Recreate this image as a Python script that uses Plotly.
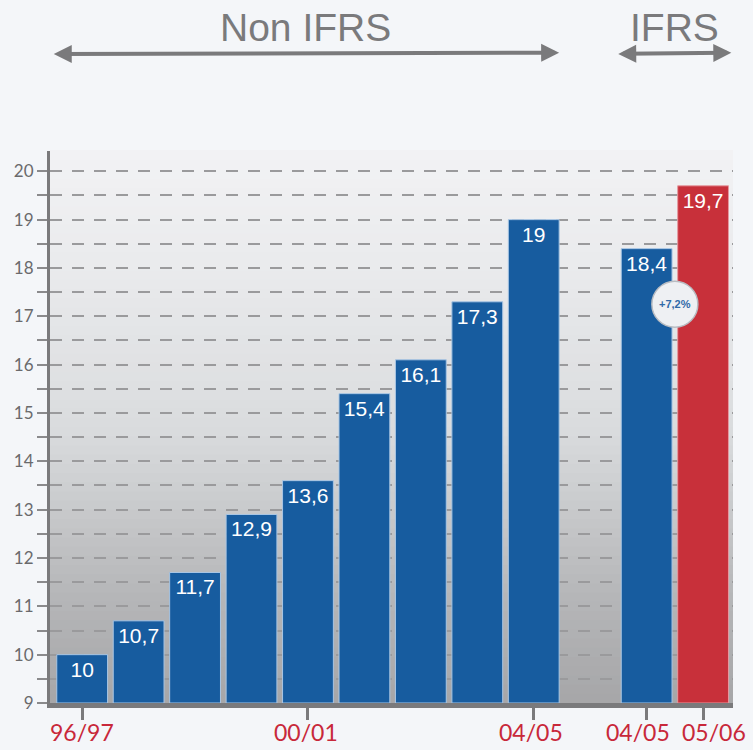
import plotly.graph_objects as go

# data
seasons_non_ifrs = ["96/97", "97/98", "98/99", "99/00", "00/01", "01/02", "02/03", "03/04", "04/05"]
values_non_ifrs = [10, 10.7, 11.7, 12.9, 13.6, 15.4, 16.1, 17.3, 19]
seasons_ifrs = ["04/05", "05/06"]
values_ifrs = [18.4, 19.7]
labeled_seasons = ["96/97", "00/01", "04/05"]
growth_label = "+7,2%"
y_ticks = list(range(9, 21))

BLUE = "#175c9f"
RED = "#c8303a"
GREY = "#7a7a7c"
TICK_RED = "#c8283a"

# x positions: non-IFRS bars, one empty slot, then IFRS bars
x_non = list(range(len(seasons_non_ifrs)))
x_ifrs = [len(seasons_non_ifrs) + 1 + i for i in range(len(seasons_ifrs))]

tickvals = [x_non[seasons_non_ifrs.index(s)] for s in labeled_seasons] + x_ifrs
ticktext = labeled_seasons + seasons_ifrs
# the two IFRS labels sit slightly apart from their ticks
label_shift = [0, -2, -3, -9, 11]


def fmt(v):
    return f"{v:g}".replace(".", ",")


fig = go.Figure()

bar_font = dict(color="white", size=21, family="Liberation Sans, Arial")
fig.add_trace(
    go.Bar(
        x=x_non,
        y=[v - 9 for v in values_non_ifrs],
        base=9,
        marker=dict(color=BLUE, line=dict(color="#a9c6e4", width=1)),
        text=[fmt(v) for v in values_non_ifrs],
        textposition="inside",
        insidetextanchor="end",
        textfont=bar_font,
        width=0.9,
        hoverinfo="skip",
    )
)
fig.add_trace(
    go.Bar(
        x=x_ifrs,
        y=[v - 9 for v in values_ifrs],
        base=9,
        marker=dict(color=[BLUE, RED], line=dict(color=["#a9c6e4", "#e59aa0"], width=1)),
        text=[fmt(v) for v in values_ifrs],
        textposition="inside",
        insidetextanchor="end",
        textfont=bar_font,
        width=0.9,
        hoverinfo="skip",
    )
)

# vertical gradient behind the bars
stops = [(0.0, (166, 166, 168)), (0.2, (182, 183, 185)), (0.5, (218, 220, 222)),
         (0.8, (234, 235, 237)), (1.0, (242, 242, 244))]
n = 60
shapes = []
for i in range(n):
    t = (i + 0.5) / n
    for (p0, c0), (p1, c1) in zip(stops[:-1], stops[1:]):
        if p0 <= t <= p1:
            f = (t - p0) / (p1 - p0)
            c = tuple(int(round(a + (b - a) * f)) for a, b in zip(c0, c1))
            break
    shapes.append(
        dict(
            type="rect", xref="x domain", yref="y domain",
            x0=0, x1=1, y0=i / n, y1=(i + 1) / n + 0.002,
            fillcolor=f"rgb{c}", line=dict(width=0), layer="below",
        )
    )

# growth bubble between the two IFRS bars
bx = (x_ifrs[0] + x_ifrs[1]) / 2
by = 17.25
shapes.append(
    dict(
        type="circle", xref="x", yref="y", xsizemode="pixel", ysizemode="pixel",
        xanchor=bx, yanchor=by, x0=-23, x1=23, y0=-23, y1=23,
        fillcolor="#eef0f3", line=dict(color="#b8bcc2", width=1.5),
    )
)

annotations = [
    dict(x=bx, y=by, xref="x", yref="y", text=f"<b>{growth_label}</b>", showarrow=False,
         font=dict(size=11, color="#2f6aa8", family="Liberation Sans, Arial")),
]

# x labels as annotations so the IFRS pair can be nudged apart
for xv, txt, dx in zip(tickvals, ticktext, label_shift):
    annotations.append(
        dict(x=xv, y=-0.024, xref="x", yref="paper", text=txt, showarrow=False,
             yanchor="top", xshift=dx,
             font=dict(size=23, color=TICK_RED, family="Lato, Noto Sans"))
    )

# top range arrows and labels
for label, x0, x1 in [("Non IFRS", x_non[0] - 0.53, x_non[-1] + 0.45),
                      ("IFRS", x_ifrs[0] - 0.53, x_ifrs[-1] + 0.5)]:
    annotations.append(
        dict(x=x1, y=1.178, xref="x", yref="paper", ax=x0, ay=1.178, axref="x", ayref="y domain",
             showarrow=True, arrowside="end+start", arrowhead=2, arrowsize=0.9,
             arrowwidth=4, arrowcolor=GREY, text="")
    )
    annotations.append(
        dict(x=(x0 + x1) / 2, y=1.181, xref="x", yref="paper", text=label, showarrow=False,
             yanchor="bottom",
             font=dict(size=39, color=GREY, family="Liberation Sans, Arial"))
    )

fig.update_layout(
    width=753,
    height=750,
    margin=dict(l=50, r=20, t=151, b=47),
    paper_bgcolor="#f4f6f9",
    plot_bgcolor="rgba(0,0,0,0)",
    showlegend=False,
    bargap=0.1,
    shapes=shapes,
    annotations=annotations,
    xaxis=dict(
        range=[-0.57, x_ifrs[-1] + 0.53],
        tickvals=tickvals,
        showticklabels=False,
        ticks="outside",
        ticklen=12,
        tickwidth=3,
        tickcolor=GREY,
        showline=True,
        linecolor=GREY,
        linewidth=5,
        showgrid=False,
        zeroline=False,
        automargin=False,
        fixedrange=True,
    ),
    yaxis=dict(
        range=[9, 20.42],
        tickvals=y_ticks,
        ticks="outside",
        ticklen=10,
        tickwidth=1.5,
        tickcolor="#8a8a8c",
        tickfont=dict(size=17, color="#6a6a6c", family="Lato, Noto Sans"),
        showline=True,
        linecolor=GREY,
        linewidth=3,
        showgrid=True,
        gridcolor="#9a9a9c",
        gridwidth=1.5,
        griddash="12px,10px",
        minor=dict(dtick=0.5, ticks="outside", ticklen=10, tickwidth=1.5, tickcolor="#8a8a8c",
                   showgrid=True, gridcolor="#9a9a9c", gridwidth=1.5, griddash="12px,10px"),
        zeroline=False,
        automargin=False,
        fixedrange=True,
    ),
)

fig.write_html("out.html", config={"displayModeBar": False},
               post_script="document.body.style.margin='0';")
